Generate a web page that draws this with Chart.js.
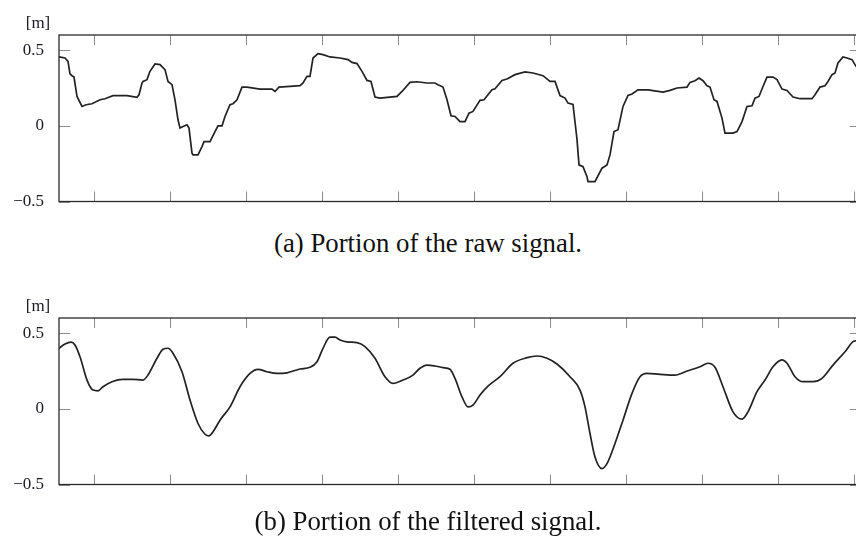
<!DOCTYPE html>
<html>
<head>
<meta charset="utf-8">
<script src="https://cdn.jsdelivr.net/npm/chart.js@4.4.1/dist/chart.umd.min.js"></script>
<style>
  html, body { margin: 0; padding: 0; background: #fff; overflow: hidden; }
  body { width: 856px; height: 544px; position: relative; }
  .panel { position: absolute; left: 0; width: 870px; }
  .caption { position: absolute; left: 0; width: 856px; text-align: center;
             font-family: 'Liberation Serif', serif; font-size: 26.8px; line-height: 30px; color: #111; }
</style>
</head>
<body>
<div class="panel" style="top:0px"><canvas id="raw" width="870" height="225"></canvas></div>
<div class="caption" style="top:228px">(a) Portion of the raw signal.</div>
<div class="panel" style="top:283px"><canvas id="filtered" width="870" height="225"></canvas></div>
<div class="caption" style="top:506px">(b) Portion of the filtered signal.</div>

<script>
// sample index along the portion shown, and height in metres
const rawT = [0, 6, 9, 11, 13, 15, 18, 23, 27, 33, 41, 46, 54, 68, 78, 80, 83, 84, 88, 91, 96, 101, 106, 109, 113, 116, 119, 121, 124, 128, 130, 133, 134, 139, 143, 145, 151, 156, 159, 163, 166, 171, 174, 178, 183, 188, 201, 213, 216, 220, 231, 241, 244, 248, 251, 254, 259, 264, 271, 281, 289, 293, 298, 303, 308, 312, 316, 321, 338, 343, 351, 358, 368, 376, 379, 384, 388, 392, 396, 401, 406, 410, 414, 421, 425, 433, 436, 443, 448, 456, 466, 474, 484, 491, 496, 501, 506, 509, 514, 518, 520, 524, 528, 529, 536, 543, 548, 551, 555, 559, 564, 569, 573, 579, 589, 604, 611, 618, 628, 631, 636, 640, 644, 648, 651, 655, 658, 663, 666, 674, 678, 683, 688, 693, 696, 700, 704, 708, 714, 718, 723, 728, 734, 741, 753, 756, 761, 766, 769, 773, 776, 779, 784, 788, 793, 797, 802];
const rawV = [0.455, 0.448, 0.426, 0.344, 0.331, 0.322, 0.194, 0.128, 0.139, 0.146, 0.172, 0.179, 0.199, 0.199, 0.188, 0.205, 0.283, 0.293, 0.305, 0.36, 0.409, 0.404, 0.371, 0.293, 0.272, 0.172, 0.04, -0.015, -0.004, 0.007, -0.015, -0.181, -0.192, -0.192, -0.137, -0.104, -0.104, -0.038, 0, 0, 0.062, 0.139, 0.146, 0.172, 0.256, 0.256, 0.243, 0.243, 0.227, 0.256, 0.26, 0.265, 0.283, 0.327, 0.327, 0.448, 0.477, 0.47, 0.455, 0.448, 0.437, 0.419, 0.411, 0.36, 0.3, 0.293, 0.19, 0.183, 0.194, 0.227, 0.287, 0.291, 0.283, 0.283, 0.272, 0.256, 0.172, 0.066, 0.062, 0.028, 0.028, 0.084, 0.095, 0.168, 0.172, 0.238, 0.245, 0.3, 0.309, 0.338, 0.356, 0.349, 0.331, 0.293, 0.293, 0.2, 0.183, 0.15, 0.142, -0.09, -0.258, -0.27, -0.336, -0.369, -0.369, -0.28, -0.258, -0.192, -0.038, -0.026, 0.128, 0.201, 0.21, 0.238, 0.238, 0.223, 0.234, 0.25, 0.256, 0.287, 0.298, 0.316, 0.298, 0.265, 0.256, 0.172, 0.161, 0.051, -0.048, -0.048, -0.038, 0.028, 0.128, 0.132, 0.183, 0.194, 0.26, 0.322, 0.322, 0.305, 0.243, 0.234, 0.19, 0.179, 0.179, 0.205, 0.256, 0.265, 0.293, 0.338, 0.349, 0.415, 0.455, 0.448, 0.437, 0.393, 0.36];

const filtT = [0, 6, 12, 16, 21, 28, 34, 39, 44, 53, 64, 74, 84, 89, 98, 104, 109, 114, 123, 131, 139, 146, 150, 154, 161, 171, 181, 191, 199, 208, 218, 228, 241, 251, 258, 264, 271, 276, 281, 288, 298, 306, 316, 326, 334, 344, 354, 361, 368, 376, 384, 391, 396, 403, 409, 414, 421, 429, 441, 454, 468, 478, 488, 498, 511, 521, 526, 531, 536, 543, 548, 556, 564, 573, 581, 588, 601, 616, 628, 641, 649, 656, 664, 674, 683, 689, 698, 706, 714, 723, 728, 736, 744, 754, 763, 774, 786, 794, 797, 802];
const filtV = [0.4, 0.428, 0.44, 0.422, 0.344, 0.19, 0.124, 0.119, 0.146, 0.179, 0.195, 0.195, 0.19, 0.223, 0.334, 0.393, 0.4, 0.367, 0.245, 0.058, -0.097, -0.168, -0.179, -0.152, -0.075, 0.013, 0.146, 0.234, 0.261, 0.245, 0.234, 0.238, 0.263, 0.274, 0.311, 0.4, 0.473, 0.473, 0.455, 0.442, 0.437, 0.411, 0.334, 0.212, 0.168, 0.19, 0.223, 0.268, 0.289, 0.283, 0.272, 0.261, 0.201, 0.079, 0.013, 0.025, 0.091, 0.15, 0.212, 0.301, 0.338, 0.349, 0.334, 0.296, 0.212, 0.124, 0.013, -0.163, -0.318, -0.395, -0.362, -0.229, -0.075, 0.102, 0.212, 0.234, 0.228, 0.223, 0.25, 0.278, 0.301, 0.274, 0.146, -0.02, -0.068, -0.02, 0.113, 0.19, 0.278, 0.323, 0.301, 0.212, 0.179, 0.179, 0.201, 0.289, 0.377, 0.444, 0.45, 0.47];

const xTicks = [35, 111, 187, 263, 339, 415, 491, 567, 643, 719, 795];
const yTicks = [-0.5, 0, 0.5];
const yMin = -0.5, yMax = 0.6, tMax = 802;
const unitLabel = '[m]';

const serif = "'Liberation Serif', 'Times New Roman', serif";

// pgfplots-like frame: full box, ticks pointing inwards on all four sides, unit above the axis
const pgfFrame = {
  id: 'pgfFrame',
  afterDraw(chart) {
    const a = chart.chartArea, ctx = chart.ctx;
    const xs = chart.scales.x, ys = chart.scales.y;
    ctx.save();
    ctx.strokeStyle = '#8c8c8c';
    ctx.lineWidth = 1;
    ctx.beginPath();
    xTicks.forEach(v => {
      const p = Math.round(xs.getPixelForValue(v)) + 0.5;
      ctx.moveTo(p, a.bottom); ctx.lineTo(p, a.bottom - 10);
      ctx.moveTo(p, a.top); ctx.lineTo(p, a.top + 10);
    });
    yTicks.forEach(v => {
      const p = Math.round(ys.getPixelForValue(v)) + 0.5;
      ctx.moveTo(a.left, p); ctx.lineTo(a.left + 11, p);
      ctx.moveTo(a.right, p); ctx.lineTo(a.right - 11, p);
    });
    ctx.stroke();
    ctx.strokeStyle = '#2a2a2a';
    ctx.lineWidth = 1.3;
    ctx.strokeRect(a.left, a.top, a.right - a.left, a.bottom - a.top);
    ctx.fillStyle = '#1a1a22';
    ctx.font = '17px ' + serif;
    ctx.textAlign = 'center';
    ctx.textBaseline = 'middle';
    ctx.fillText(unitLabel, a.left - 21, a.top - 11);
    ctx.restore();
  }
};

function signalChart(id, t, v, smooth) {
  return new Chart(document.getElementById(id), {
    type: 'line',
    data: {
      datasets: [{
        data: t.map((x, i) => ({ x: x, y: v[i] })),
        borderColor: '#222',
        borderWidth: 1.7,
        pointRadius: 0,
        fill: false,
        tension: smooth ? 0.4 : 0,
        cubicInterpolationMode: smooth ? 'monotone' : 'default'
      }]
    },
    options: {
      responsive: false,
      animation: false,
      layout: { padding: { left: 0, right: 9, top: 35, bottom: 12 } },
      plugins: { legend: { display: false }, tooltip: { enabled: false } },
      scales: {
        x: { type: 'linear', display: false, min: 0, max: tMax },
        y: {
          min: yMin, max: yMax,
          grid: { display: false, drawTicks: false },
          border: { display: false },
          afterBuildTicks: s => { s.ticks = yTicks.map(value => ({ value })); },
          afterFit: s => { s.width = 59; },
          ticks: {
            padding: 15,
            color: '#1a1a22',
            font: { family: serif, size: 17, lineHeight: 1 },
            callback: val => (val < 0 ? '\u2212' + Math.abs(val) : String(val))
          }
        }
      }
    },
    plugins: [pgfFrame]
  });
}

signalChart('raw', rawT, rawV, false);
signalChart('filtered', filtT, filtV, true);
</script>
</body>
</html>
